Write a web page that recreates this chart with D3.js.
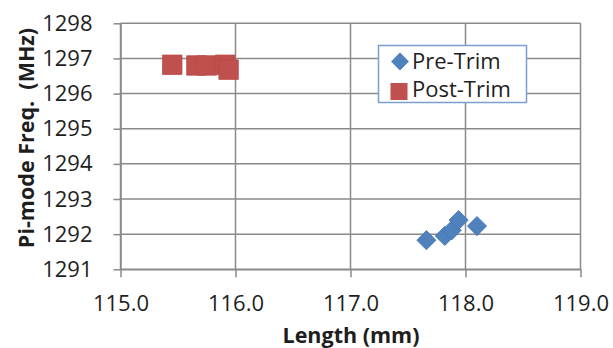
<!DOCTYPE html>
<html>
<head>
<meta charset="utf-8">
<script src="https://cdn.jsdelivr.net/npm/d3@7"></script>
<style>
  body { margin: 0; background: #fff; }
  text { font-family: "Open Sans", sans-serif; fill: #1e1e1e; }
</style>
</head>
<body>
<script>
// values
const preTrimLength = [117.66, 117.82, 117.88, 117.94, 118.10];
const preTrimFreq = [1291.83, 1291.95, 1292.11, 1292.40, 1292.23];
const postTrimLength = [115.45, 115.66, 115.75, 115.91, 115.94];
const postTrimFreq = [1296.82, 1296.80, 1296.80, 1296.82, 1296.68];
const xTicks = [115, 116, 117, 118, 119];
const yTicks = [1291, 1292, 1293, 1294, 1295, 1296, 1297, 1298];
const seriesNames = ['Pre-Trim', 'Post-Trim'];

const w = 613;
const h = 348;
const plotLeft = 120.5, plotRight = 580.5, plotTop = 23.3, plotBottom = 269.3;
const gridColor = '#8a8a8a';
const blue = '#4f81bd';
const red = '#c0504d';

const xScale = d3.scaleLinear().domain([115, 119]).range([plotLeft, plotRight]);
const yScale = d3.scaleLinear().domain([1291, 1298]).range([plotBottom, plotTop]);

const svg = d3.select('body')
  .append('svg')
  .attr('width', w)
  .attr('height', h);

// gridlines
svg.append('g')
  .selectAll('line')
  .data(yTicks)
  .join('line')
  .attr('x1', plotLeft).attr('x2', plotRight)
  .attr('y1', d => yScale(d)).attr('y2', d => yScale(d))
  .attr('stroke', gridColor).attr('stroke-width', 1.5);

svg.append('g')
  .selectAll('line')
  .data(xTicks)
  .join('line')
  .attr('x1', d => xScale(d)).attr('x2', d => xScale(d))
  .attr('y1', plotTop).attr('y2', plotBottom)
  .attr('stroke', gridColor).attr('stroke-width', 1.5);

const xAxis = d3.axisBottom(xScale)
  .tickValues(xTicks)
  .tickFormat(d3.format('.1f'))
  .tickSize(8)
  .tickSizeOuter(0)
  .tickPadding(18);

const yAxis = d3.axisLeft(yScale)
  .tickValues(yTicks)
  .tickFormat(d3.format('d'))
  .tickSize(7)
  .tickSizeOuter(0)
  .tickPadding(21);

svg.append('g')
  .attr('transform', `translate(0, ${plotBottom})`)
  .call(xAxis)
  .call(g => g.selectAll('.domain, .tick line').attr('stroke', gridColor).attr('stroke-width', 1.5))
  .call(g => g.selectAll('.tick text').attr('font-size', 22).attr('font-family', '"Open Sans"').attr('fill', '#1e1e1e'));

svg.append('g')
  .attr('transform', `translate(${plotLeft}, 0)`)
  .call(yAxis)
  .call(g => g.selectAll('.domain, .tick line').attr('stroke', gridColor).attr('stroke-width', 1.5))
  .call(g => g.selectAll('.tick text').attr('font-size', 22).attr('font-family', '"Open Sans"').attr('fill', '#1e1e1e'));

// axis titles
svg.append('text')
  .attr('x', 351)
  .attr('y', 343)
  .attr('text-anchor', 'middle')
  .attr('font-size', 21.5)
  .attr('font-weight', 'bold')
  .text('Length (mm)');

svg.append('text')
  .attr('transform', 'translate(34, 138) rotate(-90)')
  .attr('text-anchor', 'middle')
  .attr('font-size', 21.5)
  .attr('font-weight', 'bold')
  .style('white-space', 'pre')
  .text('Pi-mode Freq.  (MHz)');

// markers
const pre = preTrimLength.map((d, i) => ({ x: d, y: preTrimFreq[i] }));
const post = postTrimLength.map((d, i) => ({ x: d, y: postTrimFreq[i] }));
const diamond = d3.symbol().type(d3.symbolSquare).size(185);
const square = d3.symbol().type(d3.symbolSquare).size(380);

svg.append('g')
  .selectAll('path')
  .data(post)
  .join('path')
  .attr('d', square)
  .attr('transform', d => `translate(${xScale(d.x)}, ${yScale(d.y)})`)
  .attr('fill', red)
  .attr('stroke', '#b84b48')
  .attr('stroke-width', 0.75);

svg.append('g')
  .selectAll('path')
  .data(pre)
  .join('path')
  .attr('d', diamond)
  .attr('transform', d => `translate(${xScale(d.x)}, ${yScale(d.y)}) rotate(45)`)
  .attr('fill', blue)
  .attr('stroke', '#4677b3')
  .attr('stroke-width', 0.75);

// legend
const legend = svg.append('g');
legend.append('rect')
  .attr('x', 378.5).attr('y', 45.5)
  .attr('width', 148).attr('height', 57)
  .attr('fill', '#fff')
  .attr('stroke', '#7a9fd0')
  .attr('stroke-width', 1.5);

legend.append('path')
  .attr('d', d3.symbol().type(d3.symbolSquare).size(160))
  .attr('transform', 'translate(400, 61.5) rotate(45)')
  .attr('fill', blue);

legend.append('path')
  .attr('d', d3.symbol().type(d3.symbolSquare).size(290))
  .attr('transform', 'translate(399, 91.5)')
  .attr('fill', red);

legend.selectAll('text.entry')
  .data(seriesNames)
  .join('text')
  .attr('class', 'entry')
  .attr('x', 412)
  .attr('y', (d, i) => 68.5 + i * 28.5)
  .attr('font-size', 22)
  .text(d => d);
</script>
</body>
</html>
